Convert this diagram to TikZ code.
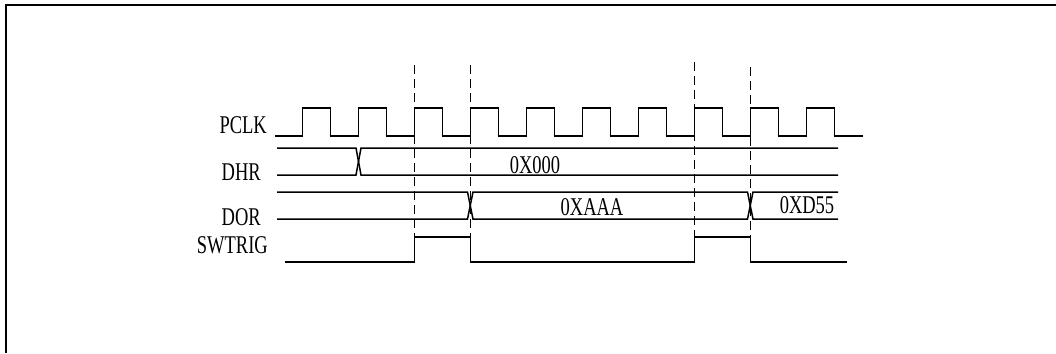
\documentclass[tikz,border=0pt]{standalone}
\usepackage{fontspec}
\setmainfont{Liberation Serif}
\usepackage{graphicx}
\usetikzlibrary{positioning}
\tikzset{
  wave/.style={line width=1.5pt},
  guide/.style={line width=1.4pt, dash pattern=on 9pt off 5pt},
  siglabel/.style={anchor=east, inner sep=0pt, font=\fontsize{18.5}{20}\selectfont},
  buslabel/.style={inner sep=0pt, font=\fontsize{18.5}{20}\selectfont}
}
\newcommand{\tallfont}[1]{\scalebox{1}[1.38]{#1}}

\begin{document}
\begin{tikzpicture}[x=1pt,y=-1pt]
  \useasboundingbox (0,0) rectangle (1056,353);
  % frame, only top and left edge visible
  \draw[line width=2pt] (1056,5) -- (6,5) -- (6,353);

  % signal names
  \node[siglabel] (pclk)   at (267,125) {\tallfont{PCLK}};
  \node[siglabel] (dhr)    at (261,172) {\tallfont{DHR}};
  \node[siglabel] (dor)    at (261,217) {\tallfont{DOR}};
  \node[siglabel] (swtrig) at (268,245) {\tallfont{SWTRIG}};

  % PCLK
  \draw[wave] (275,136) \foreach \k in {0,...,9}{ -- ({302.5+56*\k},136) -- ++(0,-28) -- ++(28,0) -- ++(0,28)} -- (863,136);

  % DHR bus
  \draw[wave] (277,148) -- (356,148) -- (361,175) -- (838,175);
  \draw[wave] (277,175) -- (356,175) -- (361,148) -- (838,148);
  \node[buslabel] (dhrval) at (535,165) {\tallfont{0X000}};

  % DOR bus
  \draw[wave] (277,192) -- (467.5,192) -- (473,219) -- (747.5,219) -- (753,192) -- (838,192);
  \draw[wave] (277,219) -- (467.5,219) -- (473,192) -- (747.5,192) -- (753,219) -- (838,219);
  \node[buslabel] (dorold) at (592,207) {\tallfont{0XAAA}};
  \node[buslabel] (dornew) at (807,205) {\tallfont{0XD55}};

  % SWTRIG
  \draw[wave] (285,262) -- (414.5,262) -- (414.5,237) -- (470.5,237) -- (470.5,262)
    -- (694.5,262) -- (694.5,237) -- (750.5,237) -- (750.5,262) -- (847,262);

  % guide lines
  \foreach \x/\y in {414.5/65,470.5/65,694.5/62,750.5/67}
    \draw[guide] (\x,\y) -- (\x,237);
\end{tikzpicture}
\end{document}
